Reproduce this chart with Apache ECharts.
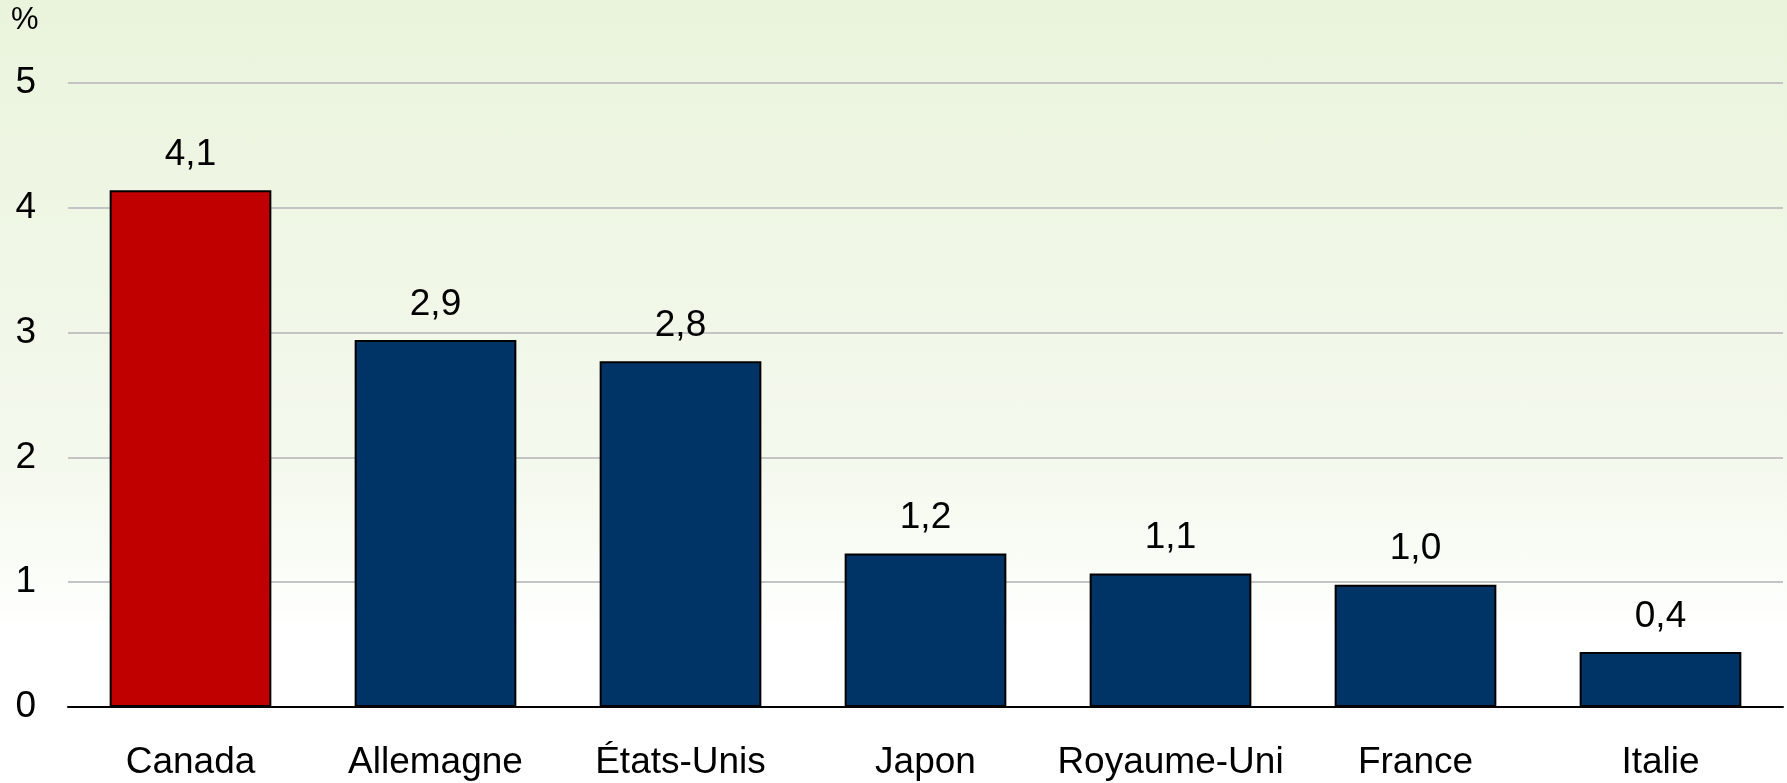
<!DOCTYPE html>
<html><head><meta charset="utf-8">
<script src="https://cdn.jsdelivr.net/npm/echarts@6/dist/echarts.min.js"></script>
<style>
html,body{margin:0;padding:0;width:1787px;height:783px;overflow:hidden;}
#c{width:1787px;height:783px;background:linear-gradient(to bottom,#eaf4dc 0%,#f4f9ee 60%,#fdfefb 78%,#ffffff 80%,#ffffff 100%);}
</style></head>
<body><div id="c"></div>
<script>
const categories = ['Canada','Allemagne','États-Unis','Japon','Royaume-Uni','France','Italie'];
const values = [4.14, 2.94, 2.77, 1.23, 1.07, 0.98, 0.44];
const barColors = ['#c00000','#003366','#003366','#003366','#003366','#003366','#003366'];
const yTicks = [0,1,2,3,4,5];
const unitLabel = '%';

const chart = echarts.init(document.getElementById('c'), null, {renderer:'canvas'});
const FONT = 'Liberation Sans, Arial, sans-serif';
chart.setOption({
  backgroundColor: 'transparent',
  animation: false,
  title: {text: unitLabel, left: 11, top: 5, padding: 0, itemGap: 0,
    textStyle: {fontSize: 31, fontWeight: 'normal', fontFamily: FONT, color: '#000'}},
  grid: {left: 68, right: 4, top: 83, bottom: 76, containLabel: false},
  xAxis: {
    type: 'category', data: categories,
    axisLine: {show: true, lineStyle: {color: '#000', width: 2}},
    axisTick: {show: false},
    axisLabel: {interval: 0, color: '#000', fontSize: 37, fontFamily: FONT, margin: 37}
  },
  yAxis: {
    type: 'value', min: yTicks[0], max: yTicks[yTicks.length-1], interval: 1,
    axisLine: {show: false}, axisTick: {show: false},
    axisLabel: {color: '#000', fontSize: 37, fontFamily: FONT, margin: 32},
    splitLine: {lineStyle: {color: '#c4c4c4', width: 2}}
  },
  series: [{
    type: 'bar',
    data: values.map((v,i)=>({value:v, itemStyle:{color: barColors[i]}})),
    barCategoryGap: '34%',
    itemStyle: {borderColor: '#000', borderWidth: 2},
    label: {show: true, position: 'top', distance: 17, color: '#000', fontSize: 37, fontFamily: FONT,
      formatter: p => p.value.toFixed(1).replace('.', ',')}
  }]
});
</script></body></html>
